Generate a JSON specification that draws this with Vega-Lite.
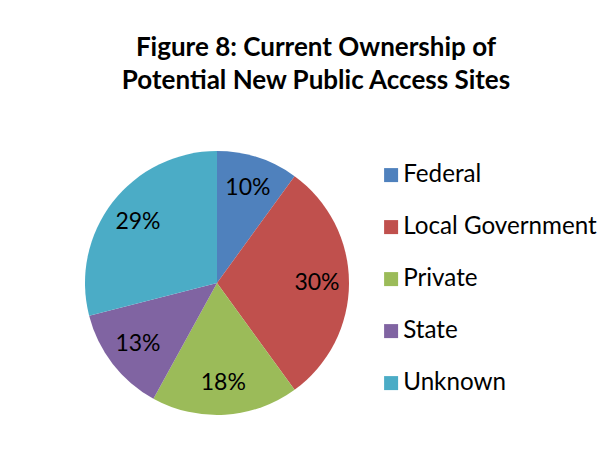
{
  "$schema": "https://vega.github.io/schema/vega-lite/v6.json",
  "autosize": "none",
  "width": 264,
  "height": 264,
  "padding": {"left": 85, "top": 151, "right": 265, "bottom": 49},
  "background": "white",
  "title": {
    "text": ["Figure 8: Current Ownership of", "Potential New Public Access Sites"],
    "font": "Lato",
    "fontSize": 26,
    "fontWeight": "bold",
    "color": "#000000",
    "anchor": "middle",
    "lineHeight": 33,
    "offset": 57,
    "dx": 99
  },
  "data": {
    "values": [
      {"owner": "Federal", "pct": 0.10},
      {"owner": "Local Government", "pct": 0.30},
      {"owner": "Private", "pct": 0.18},
      {"owner": "State", "pct": 0.13},
      {"owner": "Unknown", "pct": 0.29}
    ]
  },
  "encoding": {
    "theta": {"field": "pct", "type": "quantitative", "stack": true},
    "color": {
      "field": "owner",
      "type": "nominal",
      "scale": {
        "domain": ["Federal", "Local Government", "Private", "State", "Unknown"],
        "range": ["#4F81BD", "#C0504D", "#9BBB59", "#8064A2", "#4BACC6"]
      },
      "legend": {
        "title": null,
        "orient": "none",
        "legendX": 294,
        "legendY": 12,
        "symbolType": "square",
        "symbolSize": 196,
        "symbolStrokeWidth": 0,
        "symbolOpacity": 1,
        "labelFont": "Lato",
        "labelFontSize": 24.2,
        "labelColor": "#000000",
        "labelOffset": 0,
        "rowPadding": 27,
        "labelLimit": 400
      }
    },
    "order": {"field": "owner", "sort": "ascending"}
  },
  "layer": [
    {"mark": {"type": "arc"}},
    {
      "mark": {"type": "text", "radius": 100, "font": "Lato", "fontSize": 23, "color": "#000000"},
      "encoding": {
        "text": {"field": "pct", "type": "quantitative", "format": ".0%"},
        "color": {"value": "#000000"}
      }
    }
  ],
  "config": {"view": {"stroke": null}}
}
